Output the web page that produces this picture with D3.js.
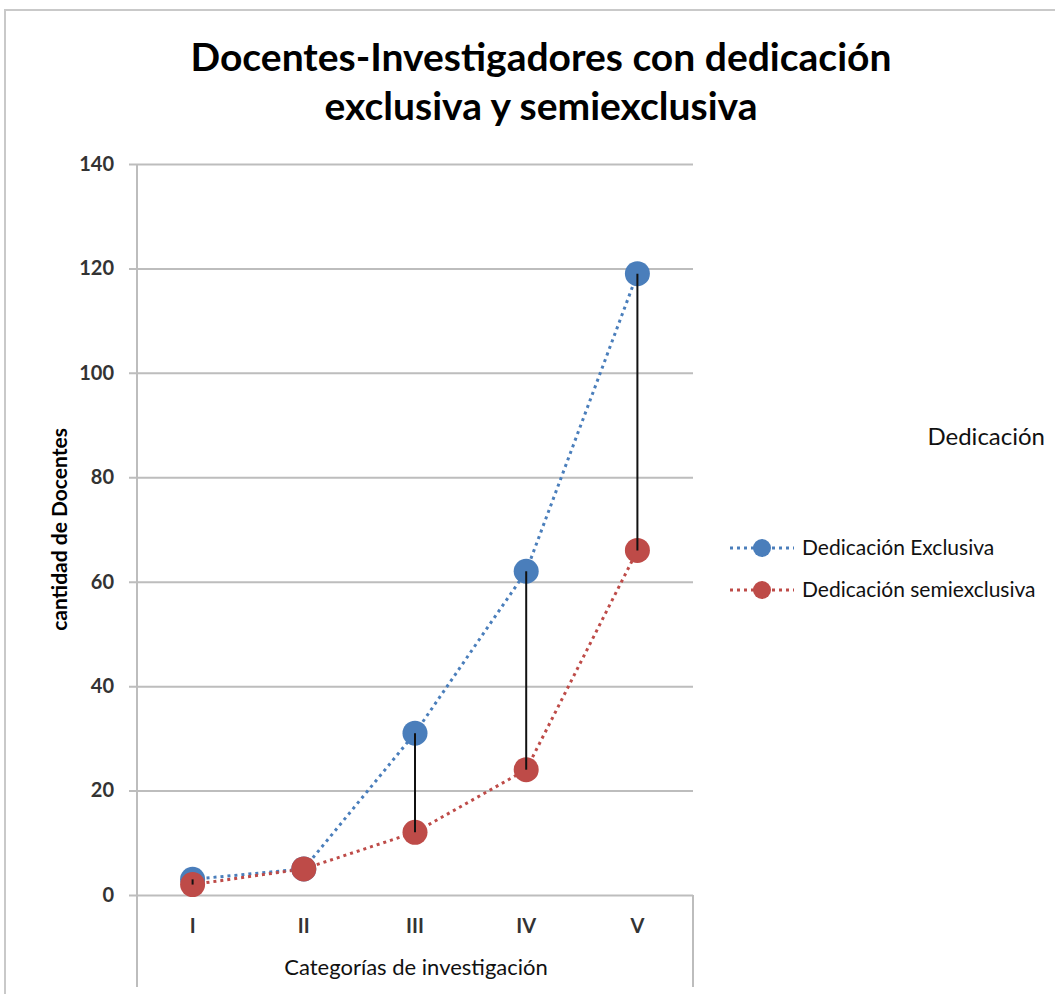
<!DOCTYPE html>
<html>
<head>
<meta charset="utf-8">
<script src="https://cdn.jsdelivr.net/npm/d3@7"></script>
<style>
  html, body { margin: 0; padding: 0; background: #fff; }
  svg { display: block; font-family: Lato, "Open Sans", sans-serif; }
</style>
</head>
<body>
<div id="chart"></div>
<script>
// ---------- Data ----------
const categories = ['I', 'II', 'III', 'IV', 'V'];
const exclusiva = [3, 5, 31, 62, 119];        // Dedicación Exclusiva
const semiexclusiva = [2, 5, 12, 24, 66];     // Dedicación semiexclusiva
const yTicks = [0, 20, 40, 60, 80, 100, 120, 140];

const seriesNames = ['Dedicación Exclusiva', 'Dedicación semiexclusiva'];
const seriesColors = ['#4a7ebb', '#be4b48'];

const width = 1055, height = 994;
const plot = { left: 137, right: 693, top: 164, bottom: 895 };

const svg = d3.select('#chart').append('svg')
  .attr('width', width)
  .attr('height', height);

// chart border
svg.append('rect')
  .attr('x', 5).attr('y', 10)
  .attr('width', width + 20).attr('height', height + 20)
  .attr('fill', 'none')
  .attr('stroke', '#c9c9c9')
  .attr('stroke-width', 2);

// scales
const x = d3.scaleBand().domain(categories).range([plot.left, plot.right]);
const y = d3.scaleLinear().domain([0, 140]).range([plot.bottom, plot.top]);
const cx = c => x(c) + x.bandwidth() / 2;

// title
svg.append('text')
  .attr('text-anchor', 'middle')
  .attr('font-weight', 'bold').attr('font-size', 39).attr('fill', '#000')
  .selectAll('tspan')
  .data(['Docentes-Investigadores con dedicación', 'exclusiva y semiexclusiva'])
  .join('tspan')
  .attr('x', 541)
  .attr('y', (d, i) => 71 + i * 49)
  .text(d => d);

// gridlines + y axis
const yAxis = d3.axisLeft(y).tickValues(yTicks).tickSize(plot.right - plot.left + 8).tickPadding(15);
const gy = svg.append('g')
  .attr('transform', `translate(${plot.right},0)`)
  .call(yAxis);
gy.select('.domain').remove();
gy.selectAll('.tick line').attr('stroke', '#bdbdbd').attr('stroke-width', 2);
gy.selectAll('.tick text')
  .attr('font-size', 20).attr('font-weight', 'bold').attr('fill', '#333')
  .attr('font-family', 'Lato, sans-serif');

// vertical axis line and category box
svg.append('line')
  .attr('x1', plot.left).attr('x2', plot.left)
  .attr('y1', plot.top).attr('y2', 987)
  .attr('stroke', '#bdbdbd').attr('stroke-width', 2);
svg.append('line')
  .attr('x1', plot.right).attr('x2', plot.right)
  .attr('y1', plot.bottom).attr('y2', 987)
  .attr('stroke', '#bdbdbd').attr('stroke-width', 2);

// category labels
const xAxis = d3.axisBottom(x).tickSize(0).tickPadding(0);
const gx = svg.append('g')
  .attr('transform', `translate(0,${plot.bottom})`)
  .call(xAxis);
gx.select('.domain').remove();
gx.selectAll('.tick text')
  .attr('y', 38).attr('dy', null)
  .attr('font-size', 20).attr('font-weight', 'bold').attr('fill', '#333')
  .attr('font-family', 'Lato, sans-serif');

// axis titles
svg.append('text')
  .attr('x', 416).attr('y', 975)
  .attr('text-anchor', 'middle')
  .attr('font-size', 22).attr('fill', '#111')
  .text('Categorías de investigación');

svg.append('text')
  .attr('transform', `translate(67,${(plot.top + plot.bottom) / 2}) rotate(-90)`)
  .attr('text-anchor', 'middle')
  .attr('font-size', 21).attr('font-weight', 'bold').attr('fill', '#000')
  .text('cantidad de Docentes');

// series lines
const series = [exclusiva, semiexclusiva];
const line = d3.line().x((d, i) => cx(categories[i])).y(d => y(d));

series.forEach((vals, s) => {
  svg.append('path')
    .datum(vals)
    .attr('d', line)
    .attr('fill', 'none')
    .attr('stroke', seriesColors[s])
    .attr('stroke-width', 3)
    .attr('stroke-dasharray', '3,4');
});

series.forEach((vals, s) => {
  svg.append('g').selectAll('circle')
    .data(vals)
    .join('circle')
    .attr('cx', (d, i) => cx(categories[i]))
    .attr('cy', d => y(d))
    .attr('r', 12.5)
    .attr('fill', seriesColors[s]);
});

// high-low lines
svg.append('g').selectAll('line')
  .data(categories)
  .join('line')
  .attr('x1', c => cx(c)).attr('x2', c => cx(c))
  .attr('y1', (c, i) => y(exclusiva[i]))
  .attr('y2', (c, i) => y(semiexclusiva[i]))
  .attr('stroke', '#111')
  .attr('stroke-width', 2);

// legend
svg.append('text')
  .attr('x', 1045).attr('y', 445)
  .attr('text-anchor', 'end')
  .attr('font-size', 24).attr('fill', '#111')
  .text('Dedicación');

const legend = svg.append('g').selectAll('g')
  .data(seriesNames)
  .join('g')
  .attr('transform', (d, i) => `translate(730,${548 + i * 42})`);
legend.append('line')
  .attr('x1', 0).attr('x2', 64)
  .attr('stroke', (d, i) => seriesColors[i])
  .attr('stroke-width', 3)
  .attr('stroke-dasharray', '3,4');
legend.append('circle')
  .attr('cx', 32).attr('r', 9)
  .attr('fill', (d, i) => seriesColors[i]);
legend.append('text')
  .attr('x', 72).attr('y', 7)
  .attr('font-size', 21).attr('fill', '#111')
  .text(d => d);
</script>
</body>
</html>
